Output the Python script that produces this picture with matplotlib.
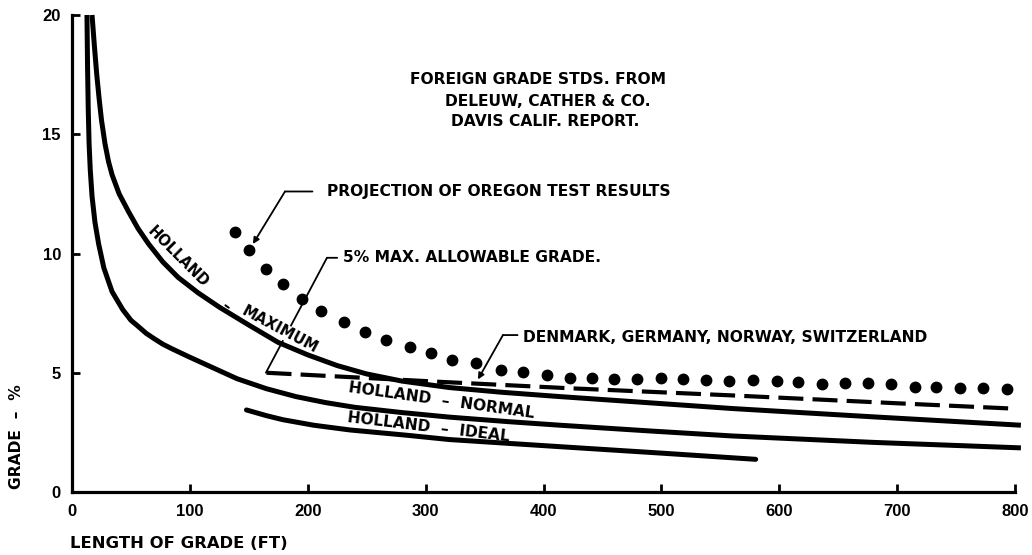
import matplotlib
matplotlib.use("Agg")
import matplotlib.pyplot as plt

plt.rcParams['font.family'] = ['DejaVu Sans']

# ---- data ----
max_x = [17, 19, 21, 23, 25, 28, 31, 34, 40, 48, 56, 65, 77, 90, 107, 125, 150, 175,
         200, 225, 250, 280, 320, 365, 414, 490, 560, 680, 805]
max_y = [20.0, 18.7, 17.5, 16.5, 15.6, 14.6, 13.85, 13.3, 12.5, 11.75, 11.05, 10.4, 9.65,
         9.0, 8.35, 7.75, 7.0, 6.27, 5.75, 5.3, 4.95, 4.65, 4.38, 4.18, 4.0, 3.74, 3.5,
         3.15, 2.8]

normal_x = [12.7, 13.2, 13.8, 14.5, 15.5, 17, 19.5, 22.6, 27, 34, 43, 50, 56, 63, 70, 77,
            85, 100, 120, 140, 165, 190, 215, 240, 280, 320, 370, 414, 490, 560, 680, 805]
normal_y = [20.0, 17.8, 16.0, 14.6, 13.5, 12.4, 11.3, 10.4, 9.4, 8.4, 7.65, 7.2, 6.95, 6.65,
            6.42, 6.2, 6.0, 5.65, 5.2, 4.75, 4.33, 4.0, 3.75, 3.55, 3.33, 3.14, 2.95, 2.8,
            2.56, 2.35, 2.08, 1.85]

ideal_x = [148, 165, 179, 205, 236, 284, 320, 370, 414, 500, 580]
ideal_y = [3.44, 3.2, 3.03, 2.8, 2.6, 2.38, 2.2, 2.04, 1.9, 1.63, 1.37]

std_x = [165, 312, 422, 560, 700, 797]
std_y = [5.0, 4.62, 4.35, 4.05, 3.72, 3.5]

oregon_x = [138, 150, 164.5, 179, 195, 211, 231, 248.5, 266, 286.7, 304.5, 322,
            342.7, 363.8, 382.3, 402.6, 422.4, 440.8, 460, 479, 499.3, 518.5, 537.5, 557.5,
            577.9, 597.7, 616, 635.9, 655.6, 675.4, 695.2, 715, 733.4, 753.2, 773, 792.8]
oregon_y = [10.89, 10.15, 9.35, 8.71, 8.08, 7.59, 7.14, 6.70, 6.37, 6.09, 5.82, 5.53,
            5.40, 5.12, 5.02, 4.91, 4.79, 4.77, 4.74, 4.74, 4.77, 4.74, 4.70, 4.65,
            4.70, 4.65, 4.62, 4.52, 4.56, 4.56, 4.52, 4.42, 4.42, 4.37, 4.37, 4.32]

x_ticks = [0, 100, 200, 300, 400, 500, 600, 700, 800]
y_ticks = [0, 5, 10, 15, 20]

# ---- figure ----
fig = plt.figure(figsize=(10.32, 5.55), dpi=100)
ax = fig.add_axes([72/1032, 1 - 492/555, (1015 - 72)/1032, (492 - 15)/555])
ax.set_xlim(0, 800)
ax.set_ylim(0, 20)

lw = 3.6
ax.plot(max_x, max_y, color='black', lw=lw, solid_capstyle='butt', solid_joinstyle='round',
        clip_on=False, zorder=4)
ax.plot(normal_x, normal_y, color='black', lw=lw, solid_capstyle='butt', solid_joinstyle='round',
        clip_on=False, zorder=4)
ax.plot(ideal_x, ideal_y, color='black', lw=lw, solid_capstyle='round', solid_joinstyle='round',
        clip_on=False, zorder=4)
ax.plot(std_x, std_y, color='black', lw=3.0, dashes=(6, 2.2), dash_capstyle='butt',
        clip_on=False, zorder=4)
ax.plot(oregon_x, oregon_y, linestyle='none', marker='o', color='black',
        markersize=7.5, clip_on=False, zorder=5)

# axes styling
for s in ['top', 'right']:
    ax.spines[s].set_visible(False)
for s in ['left', 'bottom']:
    ax.spines[s].set_linewidth(2.3)
ax.set_xticks(x_ticks)
ax.set_yticks(y_ticks)
ax.tick_params(axis='both', direction='in', length=6, width=2.0, labelsize=12)
ax.tick_params(axis='x', pad=9)
ax.tick_params(axis='y', pad=8)
for lab in ax.get_xticklabels() + ax.get_yticklabels():
    lab.set_fontweight('bold')
    lab.set_family('Liberation Sans')

fs = 11.2
tf = dict(fontsize=fs, fontweight='bold', color='black')

# header text
fig.text(538/1032, 1 - 79/555, 'FOREIGN GRADE STDS. FROM', ha='center', va='center', **tf)
fig.text(548/1032, 1 - 101/555, 'DELEUW, CATHER & CO.', ha='center', va='center', **tf)
fig.text(545/1032, 1 - 122/555, 'DAVIS CALIF. REPORT.', ha='center', va='center', **tf)

# axis labels
fig.text(17/1032, 1 - 437/555, 'GRADE  \u2013  %', rotation=90, ha='center', va='center', **tf)
fig.text(70/1032, 1 - 543/555, 'LENGTH OF GRADE (FT)', ha='left', va='center',
         fontsize=11.8, fontweight='bold', color='black')

# annotations
line_kw = dict(lw=1.3, color='black', shrinkA=0, shrinkB=0)
ax.text(216.3, 12.6, 'PROJECTION OF OREGON TEST RESULTS', ha='left', va='center', **tf)
ax.annotate('', xy=(204, 12.6), xytext=(180.7, 12.6),
            arrowprops=dict(arrowstyle='-', **line_kw))
ax.annotate('', xy=(153.5, 10.4), xytext=(180.7, 12.6),
            arrowprops=dict(arrowstyle='-|>', mutation_scale=9, **line_kw))

ax.text(230, 9.82, '5% MAX. ALLOWABLE GRADE.', ha='left', va='center', **tf)
ax.annotate('', xy=(225, 9.82), xytext=(216.3, 9.82),
            arrowprops=dict(arrowstyle='-', **line_kw))
ax.annotate('', xy=(164.5, 5.0), xytext=(216.3, 9.82),
            arrowprops=dict(arrowstyle='-', **line_kw), zorder=2)

ax.text(382.5, 6.48, 'DENMARK, GERMANY, NORWAY, SWITZERLAND', ha='left', va='center', **tf)
ax.annotate('', xy=(378, 6.58), xytext=(365.6, 6.58),
            arrowprops=dict(arrowstyle='-', **line_kw))
ax.annotate('', xy=(344.4, 4.72), xytext=(365.6, 6.58),
            arrowprops=dict(arrowstyle='-|>', mutation_scale=9, **line_kw))

# curve labels
ax.text(90, 9.85, 'HOLLAND', rotation=-45, ha='center', va='center', rotation_mode='anchor',
        fontsize=10.5, fontweight='bold')
ax.text(131, 7.8, '\u2013', rotation=-36, ha='center', va='center', rotation_mode='anchor',
        fontsize=10.5, fontweight='bold')
ax.text(176, 6.82, 'MAXIMUM', rotation=-28, ha='center', va='center', rotation_mode='anchor',
        bbox=dict(facecolor='white', edgecolor='none', pad=0.3), zorder=3,
        fontsize=10.5, fontweight='bold')
ax.text(313.6, 3.82, 'HOLLAND  \u2013  NORMAL', rotation=-8, ha='center', va='center',
        rotation_mode='anchor', **tf)
ax.text(302.8, 2.7, 'HOLLAND  \u2013  IDEAL', rotation=-6.8, ha='center', va='center',
        rotation_mode='anchor', **tf)

fig.savefig('out.png', dpi=100)
